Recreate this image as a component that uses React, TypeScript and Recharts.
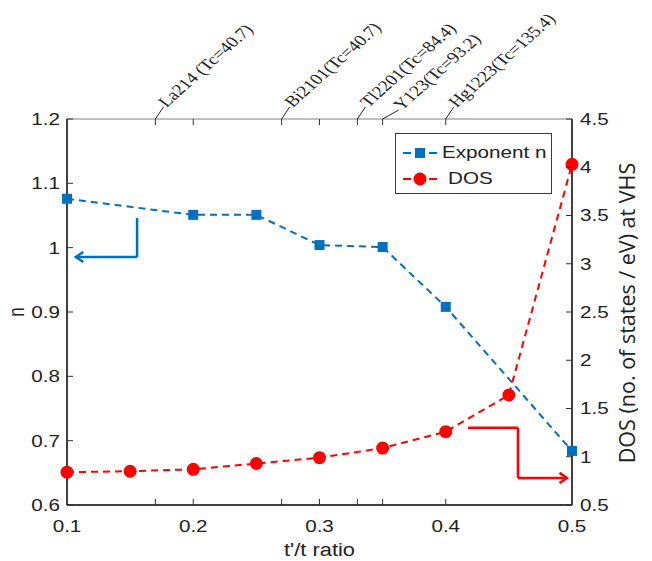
import React from "react";
import {
  ComposedChart,
  Line,
  XAxis,
  YAxis,
  Legend,
  ReferenceLine,
} from "recharts";

const BLUE = "#0070c0";
const RED = "#ff0000";
const SANS = "'Liberation Sans', Arial, sans-serif";
const SERIF = "'Liberation Serif', 'Times New Roman', serif";
const STRETCH = "scale(1.25,1)";

// exponent n (left axis)
const ratioN = [0.1, 0.2, 0.25, 0.3, 0.35, 0.4, 0.5];
const exponentN = [1.076, 1.051, 1.051, 1.004, 1.001, 0.908, 0.684];

// DOS at VHS (right axis)
const ratioDos = [0.1, 0.15, 0.2, 0.25, 0.3, 0.35, 0.4, 0.45, 0.5];
const dosValues = [0.84, 0.85, 0.87, 0.93, 0.99, 1.09, 1.26, 1.64, 4.03];

const xTicks = [0.1, 0.2, 0.3, 0.4, 0.5];
const nTicks = [0.6, 0.7, 0.8, 0.9, 1, 1.1, 1.2];
const dosTicks = [0.5, 1, 1.5, 2, 2.5, 3, 3.5, 4, 4.5];

// compounds marked on the top axis
const materialRatios = [0.17, 0.27, 0.33, 0.35, 0.4];
const materialLabels = [
  "La214 (Tc=40.7)",
  "Bi2101(Tc=40.7)",
  "Tl2201(Tc=84.4)",
  "Y123(Tc=93.2)",
  "Hg1223(Tc=135.4)",
];

// arrows telling which axis each curve belongs to (data units)
const nArrow = [
  { x: 0.1555, y: 1.046 },
  { x: 0.1555, y: 0.9855 },
  { x: 0.107, y: 0.9855 },
];
const dosArrow = [
  { x: 0.4176, y: 1.3 },
  { x: 0.4572, y: 1.3 },
  { x: 0.4572, y: 0.78 },
  { x: 0.496, y: 0.78 },
];

const nData = ratioN.map((x, i) => ({ x, n: exponentN[i] }));
const dosData = ratioDos.map((x, i) => ({ x, dos: dosValues[i] }));

const bottomTicks = [...new Set([...xTicks, ...materialRatios])].sort((a, b) => a - b);
const topTicks = bottomTicks.filter((v) => v > 0.1 && v < 0.5);

function BottomTick({ x, y, payload }: any) {
  const v = payload.value;
  return (
    <g>
      {v > 0.1 && v < 0.5 && <line x1={x} x2={x} y1={y} y2={y - 6} stroke="#333" />}
      {xTicks.includes(v) && (
        <text
          transform={`translate(${x},${y + 27}) ${STRETCH}`}
          textAnchor="middle"
          fontFamily={SANS}
          fontSize={16.5}
          fill="#222"
        >
          {String(v)}
        </text>
      )}
    </g>
  );
}

function TopTick({ x, y, payload }: any) {
  const v = payload.value;
  const i = materialRatios.indexOf(v);
  const lead = i === 3 ? [16, -9] : [8, -12];
  return (
    <g>
      <line x1={x} x2={x} y1={y} y2={y + 6} stroke="#333" />
      {i >= 0 && (
        <g>
          <line x1={x} y1={y} x2={x + lead[0]} y2={y + lead[1]} stroke="#222" />
          <text
            transform={`translate(${x + lead[0] + 3},${y + lead[1] + 1}) ${STRETCH} rotate(-48)`}
            fontFamily={SERIF}
            fontSize={15.5}
            fill="#222"
          >
            {materialLabels[i]}
          </text>
        </g>
      )}
    </g>
  );
}

function NTick({ x, y, payload }: any) {
  return (
    <g>
      <line x1={x} x2={x + 6} y1={y} y2={y} stroke="#333" />
      <text
        transform={`translate(${x - 7},${y}) ${STRETCH}`}
        textAnchor="end"
        dy="0.36em"
        fontFamily={SANS}
        fontSize={16.5}
        fill="#222"
      >
        {String(payload.value)}
      </text>
    </g>
  );
}

function DosTick({ x, y, payload }: any) {
  return (
    <g>
      <line x1={x - 6} x2={x} y1={y} y2={y} stroke="#333" />
      <text
        transform={`translate(${x + 8},${y}) ${STRETCH}`}
        textAnchor="start"
        dy="0.36em"
        fontFamily={SANS}
        fontSize={16.5}
        fill="#222"
      >
        {String(payload.value)}
      </text>
    </g>
  );
}

function ArrowShape(props: any) {
  const { x1, y1, x2, y2, stroke } = props;
  const a = Math.atan2(y2 - y1, x2 - x1);
  const h = 9;
  const s = 0.6;
  return (
    <g stroke={stroke} strokeWidth={2.5} fill="none">
      <line x1={x1} y1={y1} x2={x2} y2={y2} />
      <polyline
        points={`${x2 - h * Math.cos(a - s)},${y2 - h * Math.sin(a - s)} ${x2},${y2} ${
          x2 - h * Math.cos(a + s)
        },${y2 - h * Math.sin(a + s)}`}
      />
    </g>
  );
}

const SquareDot = (p: any) => (
  <rect key={`s${p.index}`} x={p.cx - 5} y={p.cy - 5} width={10} height={10} fill={BLUE} />
);
const CircleDot = (p: any) => (
  <circle key={`c${p.index}`} cx={p.cx} cy={p.cy} r={6.5} fill={RED} />
);

function LegendBox() {
  const text: React.CSSProperties = {
    position: "absolute",
    fontFamily: SANS,
    fontSize: 16.5,
    color: "#222",
    transform: "scaleX(1.25)",
    transformOrigin: "left center",
    whiteSpace: "nowrap",
    lineHeight: "20px",
  };
  return (
    <div
      style={{
        width: 157,
        height: 61,
        boxSizing: "border-box",
        border: "1px solid #3a3a3a",
        background: "#fff",
        position: "relative",
      }}
    >
      <svg width={40} height={20} style={{ position: "absolute", left: 6, top: 9 }}>
        <line x1={1} x2={9} y1={10} y2={10} stroke={BLUE} strokeWidth={2} />
        <line x1={27} x2={35} y1={10} y2={10} stroke={BLUE} strokeWidth={2} />
        <rect x={13} y={5} width={10} height={10} fill={BLUE} />
      </svg>
      <span style={{ ...text, left: 46, top: 8 }}>Exponent n</span>
      <svg width={40} height={20} style={{ position: "absolute", left: 6, top: 35 }}>
        <line x1={1} x2={9} y1={10} y2={10} stroke={RED} strokeWidth={2} />
        <line x1={27} x2={35} y1={10} y2={10} stroke={RED} strokeWidth={2} />
        <circle cx={18} cy={10} r={6.5} fill={RED} />
      </svg>
      <span style={{ ...text, left: 52, top: 34 }}>DOS</span>
    </div>
  );
}

export default function App() {
  return (
    <div style={{ position: "absolute", left: 0, top: 0, background: "#fff" }}>
      <ComposedChart
        width={652}
        height={561}
        margin={{ top: 99, right: 10, bottom: 16, left: 7 }}
      >
        <XAxis
          xAxisId="bottom"
          dataKey="x"
          type="number"
          domain={[0.1, 0.5]}
          ticks={bottomTicks}
          interval={0}
          tickLine={false}
          tickSize={0}
          tickMargin={0}
          height={40}
          tick={<BottomTick />}
          axisLine={{ stroke: "#000", strokeWidth: 1.5 }}
          label={(p: any) => (
            <text
              transform={`translate(${p.viewBox.x + p.viewBox.width / 2},${p.viewBox.y + 51}) ${STRETCH}`}
              textAnchor="middle"
              fontFamily={SANS}
              fontSize={17.5}
              fill="#222"
            >
              t'/t ratio
            </text>
          )}
        />
        <XAxis
          xAxisId="top"
          orientation="top"
          dataKey="x"
          type="number"
          domain={[0.1, 0.5]}
          ticks={topTicks}
          interval={0}
          tickLine={false}
          tickSize={0}
          tickMargin={0}
          height={20}
          tick={<TopTick />}
          axisLine={{ stroke: "#808080", strokeWidth: 1.2 }}
        />
        <YAxis
          yAxisId="left"
          type="number"
          domain={[0.6, 1.2]}
          ticks={nTicks}
          interval={0}
          tickLine={false}
          tickSize={0}
          tickMargin={0}
          width={60}
          tick={<NTick />}
          axisLine={{ stroke: "#000", strokeWidth: 1.5 }}
          label={(p: any) => (
            <text
              transform={`translate(${p.viewBox.x + 17},${p.viewBox.y + p.viewBox.height / 2}) ${STRETCH} rotate(-90)`}
              textAnchor="middle"
              fontFamily={SANS}
              fontSize={17}
              fill="#222"
            >
              n
            </text>
          )}
        />
        <YAxis
          yAxisId="right"
          orientation="right"
          type="number"
          domain={[0.5, 4.5]}
          ticks={dosTicks}
          interval={0}
          tickLine={false}
          tickSize={0}
          tickMargin={0}
          width={70}
          tick={<DosTick />}
          axisLine={{ stroke: "#000", strokeWidth: 1.5 }}
          label={(p: any) => (
            <text
              transform={`translate(${p.viewBox.x + 63},${p.viewBox.y + p.viewBox.height / 2 + 1}) rotate(-90)`}
              textAnchor="middle"
              fontFamily="'Open Sans', 'Noto Sans', sans-serif"
              fontSize={21.5}
              fill="#222"
            >
              DOS (no. of states / eV) at VHS
            </text>
          )}
        />

        {nArrow.slice(1).map((p, i) => (
          <ReferenceLine
            key={`na${i}`}
            xAxisId="bottom"
            yAxisId="left"
            segment={[nArrow[i], p]}
            ifOverflow="visible"
            stroke={BLUE}
            strokeWidth={2.5}
            shape={i === nArrow.length - 2 ? ArrowShape : undefined}
          />
        ))}
        {dosArrow.slice(1).map((p, i) => (
          <ReferenceLine
            key={`da${i}`}
            xAxisId="bottom"
            yAxisId="right"
            segment={[dosArrow[i], p]}
            ifOverflow="visible"
            stroke={RED}
            strokeWidth={2.5}
            shape={i === dosArrow.length - 2 ? ArrowShape : undefined}
          />
        ))}

        {/* invisible series so the top axis is drawn */}
        <Line
          data={nData}
          xAxisId="top"
          yAxisId="left"
          dataKey="n"
          stroke="none"
          dot={false}
          activeDot={false}
          legendType="none"
          isAnimationActive={false}
        />
        <Line
          data={dosData}
          xAxisId="bottom"
          yAxisId="right"
          dataKey="dos"
          name="DOS"
          type="linear"
          stroke={RED}
          strokeWidth={2}
          strokeDasharray="7 5"
          dot={CircleDot}
          activeDot={false}
          isAnimationActive={false}
        />
        <Line
          data={nData}
          xAxisId="bottom"
          yAxisId="left"
          dataKey="n"
          name="Exponent n"
          type="linear"
          stroke={BLUE}
          strokeWidth={2}
          strokeDasharray="7 5"
          dot={SquareDot}
          activeDot={false}
          isAnimationActive={false}
        />

        <Legend
          layout="vertical"
          align="center"
          verticalAlign="middle"
          content={() => <LegendBox />}
          wrapperStyle={{ left: 395, top: 133, width: 157, height: 61 }}
        />
      </ComposedChart>
    </div>
  );
}
